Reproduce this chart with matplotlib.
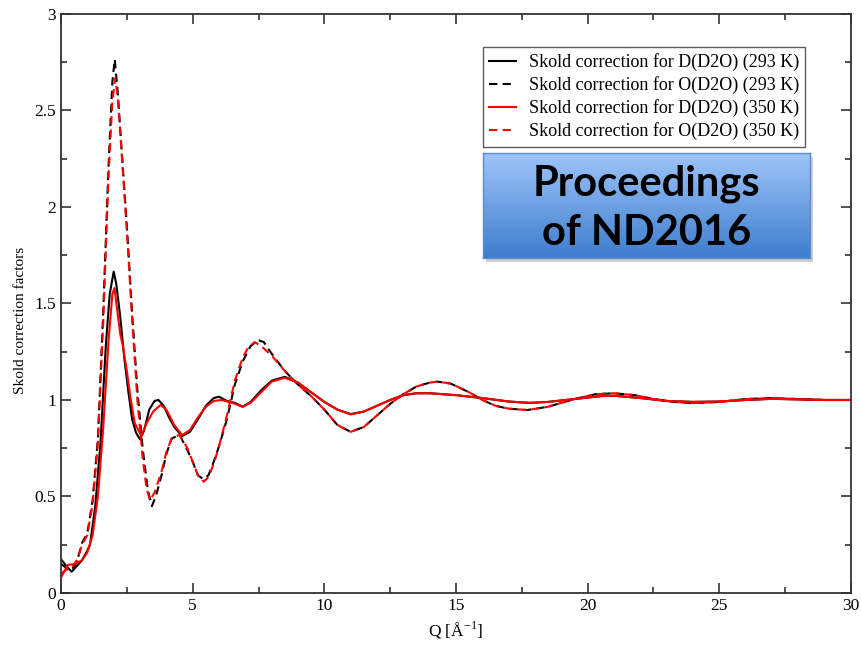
import numpy as np
import matplotlib
matplotlib.use("Agg")
import matplotlib.pyplot as plt
from matplotlib.patches import Rectangle

# Skold correction factors
q_d293 = [0, 0.2, 0.4, 0.6, 0.8, 1.0, 1.1, 1.3, 1.5, 1.7, 1.85, 2.0, 2.1, 2.25, 2.4, 2.55,
          2.7, 2.85, 3.0, 3.15, 3.35, 3.55, 3.7, 3.9, 4.1, 4.3, 4.6, 4.9, 5.2, 5.5, 5.8,
          6.0, 6.3, 6.6, 6.9, 7.2, 7.6, 8.0, 8.5, 9.0, 9.5, 10.0, 10.5, 11.0, 11.5, 12.0,
          12.5, 13.0, 13.5, 14.0, 15.0, 16.0, 17.0, 17.8, 18.5, 19.5, 20.5, 21.0, 22.0,
          23.0, 24.0, 25.0, 26.0, 27.0, 28.0, 29.0, 30.0]
s_d293 = [0.175, 0.14, 0.11, 0.14, 0.17, 0.22, 0.25, 0.45, 0.78, 1.28, 1.55, 1.665, 1.6, 1.43,
          1.22, 1.05, 0.9, 0.83, 0.796, 0.84, 0.95, 0.995, 1.0, 0.97, 0.91, 0.86, 0.813,
          0.835, 0.9, 0.97, 1.01, 1.017, 0.995, 0.985, 0.965, 0.99, 1.05, 1.1, 1.12, 1.09,
          1.04, 0.99, 0.95, 0.927, 0.94, 0.97, 1.0, 1.025, 1.035, 1.035, 1.025, 1.01, 0.992,
          0.985, 0.99, 1.005, 1.02, 1.022, 1.01, 0.995, 0.99, 0.992, 1.0, 1.006, 1.003, 1.0, 1.0]

q_o293 = [0, 0.2, 0.4, 0.6, 0.8, 1.0, 1.2, 1.4, 1.6, 1.8, 1.95, 2.04, 2.15, 2.3, 2.5, 2.7,
          2.9, 3.1, 3.3, 3.45, 3.6, 3.8, 4.0, 4.2, 4.5, 4.8, 5.0, 5.2, 5.4, 5.6, 5.8, 6.0,
          6.3, 6.6, 6.9, 7.2, 7.5, 7.7, 8.0, 8.5, 9.0, 9.5, 10.0, 10.5, 11.0, 11.5, 12.0,
          12.5, 13.0, 13.5, 14.0, 14.3, 14.8, 15.5, 16.0, 16.5, 17.0, 17.7, 18.5, 19.5,
          20.3, 21.0, 21.8, 22.5, 23.3, 24.0, 25.0, 26.0, 27.0, 28.0, 29.0, 30.0]
s_o293 = [0.15, 0.13, 0.12, 0.16, 0.26, 0.31, 0.48, 0.8, 1.45, 2.2, 2.65, 2.765, 2.6, 2.3,
          1.9, 1.45, 1.05, 0.75, 0.53, 0.45, 0.5, 0.6, 0.72, 0.8, 0.82, 0.74, 0.68, 0.61,
          0.59, 0.61, 0.68, 0.76, 0.9, 1.08, 1.2, 1.28, 1.31, 1.3, 1.24, 1.15, 1.08, 1.02,
          0.95, 0.87, 0.835, 0.86, 0.92, 0.98, 1.03, 1.07, 1.09, 1.095, 1.085, 1.04, 1.0,
          0.97, 0.955, 0.948, 0.965, 1.005, 1.03, 1.035, 1.025, 1.005, 0.99, 0.984, 0.99,
          1.005, 1.01, 1.005, 1.0, 1.0]

q_d350 = [0, 0.25, 0.5, 0.8, 1.0, 1.2, 1.4, 1.6, 1.8, 1.95, 2.03, 2.12, 2.25, 2.35, 2.5,
          2.65, 2.8, 3.05, 3.25, 3.5, 3.78, 4.0, 4.3, 4.6, 4.9, 5.2, 5.5, 5.8, 6.1, 6.5,
          6.9, 7.2, 7.6, 8.0, 8.5, 9.0, 9.5, 10.0, 10.5, 11.0, 11.5, 12.0, 12.5, 13.0,
          13.5, 14.0, 15.0, 16.0, 17.0, 17.8, 18.5, 19.5, 20.5, 21.0, 22.0, 23.0, 24.0,
          25.0, 26.0, 27.0, 28.0, 29.0, 30.0]
s_d350 = [0.08, 0.145, 0.15, 0.17, 0.21, 0.3, 0.5, 0.85, 1.3, 1.55, 1.58, 1.48, 1.34, 1.28,
          1.15, 1.0, 0.88, 0.813, 0.88, 0.94, 0.974, 0.95, 0.87, 0.818, 0.845, 0.91, 0.965,
          0.995, 1.0, 0.985, 0.965, 0.985, 1.04, 1.095, 1.115, 1.09, 1.04, 0.99, 0.95,
          0.925, 0.94, 0.97, 1.0, 1.025, 1.035, 1.035, 1.025, 1.01, 0.992, 0.985, 0.99,
          1.005, 1.02, 1.022, 1.01, 0.995, 0.99, 0.992, 1.0, 1.006, 1.003, 1.0, 1.0]

q_o350 = [0, 0.2, 0.4, 0.6, 0.8, 1.0, 1.2, 1.4, 1.6, 1.8, 1.95, 2.06, 2.17, 2.3, 2.5, 2.7,
          2.9, 3.1, 3.25, 3.38, 3.55, 3.8, 4.0, 4.2, 4.5, 4.8, 5.0, 5.2, 5.42, 5.6, 5.8,
          6.0, 6.3, 6.6, 6.9, 7.1, 7.35, 7.6, 8.0, 8.5, 9.0, 9.5, 10.0, 10.5, 11.0, 11.5,
          12.0, 12.5, 13.0, 13.5, 14.0, 14.3, 14.8, 15.5, 16.0, 16.5, 17.0, 17.7, 18.5,
          19.5, 20.3, 21.0, 21.8, 22.5, 23.3, 24.0, 25.0, 26.0, 27.0, 28.0, 29.0, 30.0]
s_o350 = [0.1, 0.12, 0.13, 0.17, 0.25, 0.3, 0.46, 0.78, 1.4, 2.15, 2.55, 2.667, 2.55, 2.28,
          1.88, 1.42, 1.0, 0.7, 0.54, 0.48, 0.52, 0.62, 0.73, 0.8, 0.82, 0.75, 0.68, 0.61,
          0.577, 0.6, 0.67, 0.76, 0.92, 1.1, 1.22, 1.27, 1.30, 1.28, 1.23, 1.15, 1.08, 1.02,
          0.95, 0.87, 0.835, 0.86, 0.92, 0.98, 1.03, 1.07, 1.09, 1.095, 1.085, 1.04, 1.0,
          0.97, 0.955, 0.948, 0.965, 1.005, 1.03, 1.035, 1.025, 1.005, 0.99, 0.984, 0.99,
          1.005, 1.01, 1.005, 1.0, 1.0]

labels = ['Skold correction for D(D2O) (293 K)',
          'Skold correction for O(D2O) (293 K)',
          'Skold correction for D(D2O) (350 K)',
          'Skold correction for O(D2O) (350 K)']

plt.rcParams['font.family'] = ['Liberation Serif', 'DejaVu Serif']
plt.rcParams['mathtext.fontset'] = 'custom'
plt.rcParams['mathtext.rm'] = 'Liberation Serif'

fig = plt.figure(figsize=(8.62, 6.48), dpi=100)
ax = fig.add_axes([0.0708, 0.0849, 0.9164, 0.8935])

dash = (0, (4, 2.5))
ax.plot(q_d293, s_d293, color='black', lw=1.5, label=labels[0])
ax.plot(q_o293, s_o293, color='black', lw=1.5, ls=dash, label=labels[1])
ax.plot(q_d350, s_d350, color='red', lw=1.5, label=labels[2])
ax.plot(q_o350, s_o350, color='red', lw=1.5, ls=dash, label=labels[3])

ax.set_xlim(0, 30)
ax.set_ylim(0, 3)
ax.set_xticks(np.arange(0, 31, 5))
ax.set_xticks(np.arange(0, 30.1, 2.5), minor=True)
ax.set_yticks(np.arange(0, 3.01, 0.5))
ax.set_yticks(np.arange(0, 3.01, 0.25), minor=True)
ax.set_yticklabels(['0', '0.5', '1', '1.5', '2', '2.5', '3'])
ax.tick_params(which='both', direction='in', top=True, right=True, labelsize=12.5,
               color='#333333', width=1.2)
ax.tick_params(which='major', length=7)
ax.tick_params(which='minor', length=4)
for sp in ax.spines.values():
    sp.set_linewidth(1.3)
    sp.set_color('#333333')

ax.set_xlabel(r'Q [$\mathrm{\AA}^{-1}$]', fontsize=12.5, labelpad=4)
ax.set_ylabel('Skold correction factors', fontsize=11)
ax.yaxis.set_label_coords(-0.043, 0.47)

leg = ax.legend(loc='upper left', bbox_to_anchor=(0.534, 0.943), borderaxespad=0,
                fontsize=13, frameon=True, fancybox=False, handlelength=1.5,
                labelspacing=0.28, borderpad=0.35, handletextpad=0.7)
leg.get_frame().set_edgecolor('#333333')
leg.get_frame().set_linewidth(1.0)

# "Proceedings of ND2016" banner with a vertical blue gradient
bx, by, bw, bh = 483 / 862, (648 - 258) / 648, 327 / 862, 105 / 648
fig.patches.append(Rectangle((bx + 0.004, by - 0.006), bw, bh, transform=fig.transFigure,
                             facecolor='#b0b0b0', edgecolor='none', alpha=0.6, zorder=3))
bax = fig.add_axes([bx, by, bw, bh], zorder=4)
grad = np.linspace(0, 1, 256).reshape(-1, 1)
top = np.array([0.62, 0.77, 0.98])
bot = np.array([0.24, 0.49, 0.80])
img = top + (bot - top) * grad[:, :, None]
bax.imshow(img, aspect='auto', extent=[0, 1, 0, 1])
bax.set_xticks([])
bax.set_yticks([])
for sp in bax.spines.values():
    sp.set_color('#5d8ccc')
    sp.set_linewidth(1.0)
bax.text(0.5, 0.47, 'Proceedings\nof ND2016', ha='center', va='center', fontsize=30,
         fontweight='bold', family=['Lato', 'DejaVu Sans'], linespacing=1.35,
         transform=bax.transAxes)

fig.savefig('out.png', dpi=100)
